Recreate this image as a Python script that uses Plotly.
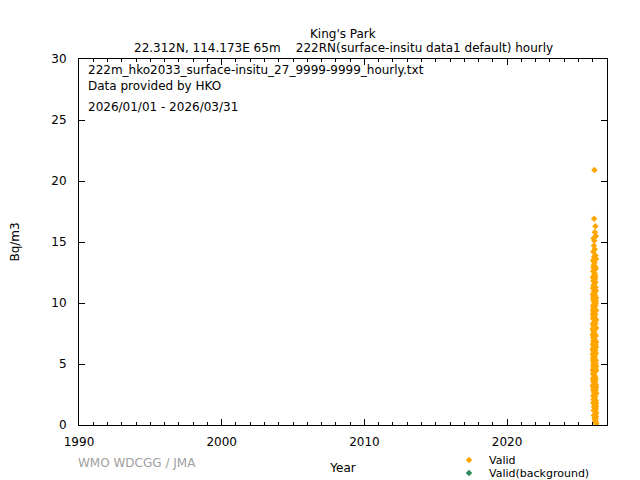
import pandas as pd
import plotly.graph_objects as go

start_time = "2026-01-01 00:00"
sample_freq = "12h"
valid_values = [
    3.2, 5.8, 7.4, 9.1, 6.2, 4.5, 8.3, 10.7, 12.1, 7.9, 5.3, 3.8, 6.6, 9.4, 11.2, 13.5, 8.7, 6.1, 4.2, 2.9,
    5.5, 7.8, 10.3, 12.6, 9.8, 7.2, 3.6, 1.8, 2.4, 4.9, 6.7, 8.9, 11.8, 14.2, 10.5, 7.7, 5.1, 3.3, 6.9, 9.6,
    12.9, 15.3, 11.4, 8.2, 6.4, 4.7, 2.1, 1.2, 3.9, 5.7, 8.1, 10.9, 13.1, 9.3, 7.1, 4.4, 6.3, 8.8, 11.5, 14.7,
    10.1, 7.5, 5.9, 3.1, 1.5, 0.8, 2.7, 4.1, 6.8, 9.2, 12.3, 16.9, 13.8, 10.4, 7.6, 5.4, 3.5, 2.2, 4.8, 7.3,
    9.9, 12.7, 15.1, 11.1, 8.4, 6.0, 4.3, 20.9, 13.3, 9.7, 6.5, 3.7, 1.9, 0.6, 2.6, 5.0, 7.0, 9.5, 11.9, 14.4,
    10.8, 8.0, 5.6, 3.4, 2.0, 4.6, 6.9, 9.0, 12.4, 15.8, 12.0, 8.6, 6.2, 3.0, 1.4, 0.4, 2.3, 4.0, 6.1, 8.5,
    10.6, 13.0, 9.1, 6.7, 4.9, 2.8, 1.1, 0.3, 1.7, 3.6, 5.2, 7.4, 9.8, 12.2, 16.3, 11.7, 8.3, 5.8, 3.2, 1.6,
    0.9, 2.5, 4.4, 6.6, 8.7, 11.3, 13.9, 10.2, 7.3, 5.0, 2.9, 1.3, 0.5, 2.0, 3.8, 5.9, 8.0, 10.0, 12.8, 15.5,
    11.0, 7.9, 5.3, 3.3, 1.8, 0.7, 0.2, 1.5, 3.1, 4.8, 6.4, 8.6, 10.4, 13.6, 9.4, 6.8, 4.5, 2.6, 1.0, 0.1,
]
background_times = [None]
background_values = [None]

x_range = ["1990-01-01", "2027-01-01"]
y_range = [0, 30]

times = pd.date_range(start_time, periods=len(valid_values), freq=sample_freq)

fig = go.Figure()
fig.add_trace(go.Scatter(
    x=times, y=valid_values, mode="markers", name="Valid", legend="legend",
    marker=dict(symbol="diamond", size=5, color="#FFA500", line=dict(width=0)),
))
fig.add_trace(go.Scatter(
    x=background_times, y=background_values, mode="markers", name="Valid(background)",
    legend="legend2",
    marker=dict(symbol="diamond", size=5, color="#2E8B57", line=dict(width=0)),
))

W, H = 632, 472
font = "DejaVu Sans, sans-serif"
legend_common = dict(xref="container", yref="container", xanchor="left", yanchor="middle",
                     font=dict(size=11), itemwidth=30, bgcolor="rgba(0,0,0,0)")
fig.update_layout(
    width=W, height=H,
    margin=dict(l=71, r=33, t=51, b=55, autoexpand=False),
    paper_bgcolor="white", plot_bgcolor="white",
    font=dict(family=font, size=12, color="black"),
    showlegend=True,
    legend=dict(x=441 / W, y=1 - 452 / H, **legend_common),
    legend2=dict(x=441 / W, y=1 - 465 / H, **legend_common),
    xaxis=dict(
        type="date", range=x_range, tickformat="%Y", dtick="M120", tick0="1990-01-01",
        ticks="inside", ticklen=6, tickcolor="black", showline=True, linecolor="black",
        linewidth=1, mirror="allticks", showgrid=False, zeroline=False,
        ticklabelstandoff=6, automargin=False,
        minor=dict(dtick="M12", ticks="inside", ticklen=3, tickcolor="black", showgrid=False),
        title=dict(text="Year", font=dict(size=12), standoff=15),
    ),
    yaxis=dict(
        range=y_range, dtick=5, ticks="inside", ticklen=6, tickcolor="black",
        showline=True, linecolor="black", linewidth=1, mirror="allticks",
        showgrid=False, zeroline=False, ticklabelstandoff=9, automargin=False,
        title=dict(text="Bq/m3", font=dict(size=12), standoff=30),
    ),
)

fig.add_annotation(text="King's Park",
                   xref="paper", yref="paper", x=0.5, y=1.0, xanchor="center", yanchor="bottom",
                   showarrow=False, font=dict(size=12), yshift=16)
fig.add_annotation(text="22.312N, 114.173E 65m    222RN(surface-insitu data1 default) hourly",
                   xref="paper", yref="paper", x=0.5, y=1.0, xanchor="center", yanchor="bottom",
                   showarrow=False, font=dict(size=12), yshift=2)
fig.add_annotation(text="222m_hko2033_surface-insitu_27_9999-9999_hourly.txt<br>Data provided by HKO",
                   xref="paper", yref="paper", x=0.0, y=1.0, xanchor="left", yanchor="top",
                   xshift=7, yshift=-2, showarrow=False, font=dict(size=12), align="left")
fig.add_annotation(text="2026/01/01 - 2026/03/31",
                   xref="paper", yref="paper", x=0.0, y=1.0, xanchor="left", yanchor="top",
                   xshift=7, yshift=-39, showarrow=False, font=dict(size=12), align="left")
fig.add_annotation(text="WMO WDCGG / JMA",
                   xref="paper", yref="paper", x=0.0, y=-0.104, xanchor="left", yanchor="middle",
                   xshift=-3, showarrow=False, font=dict(size=12, color="#A0A0A0"))

fig.write_html("out.html")
